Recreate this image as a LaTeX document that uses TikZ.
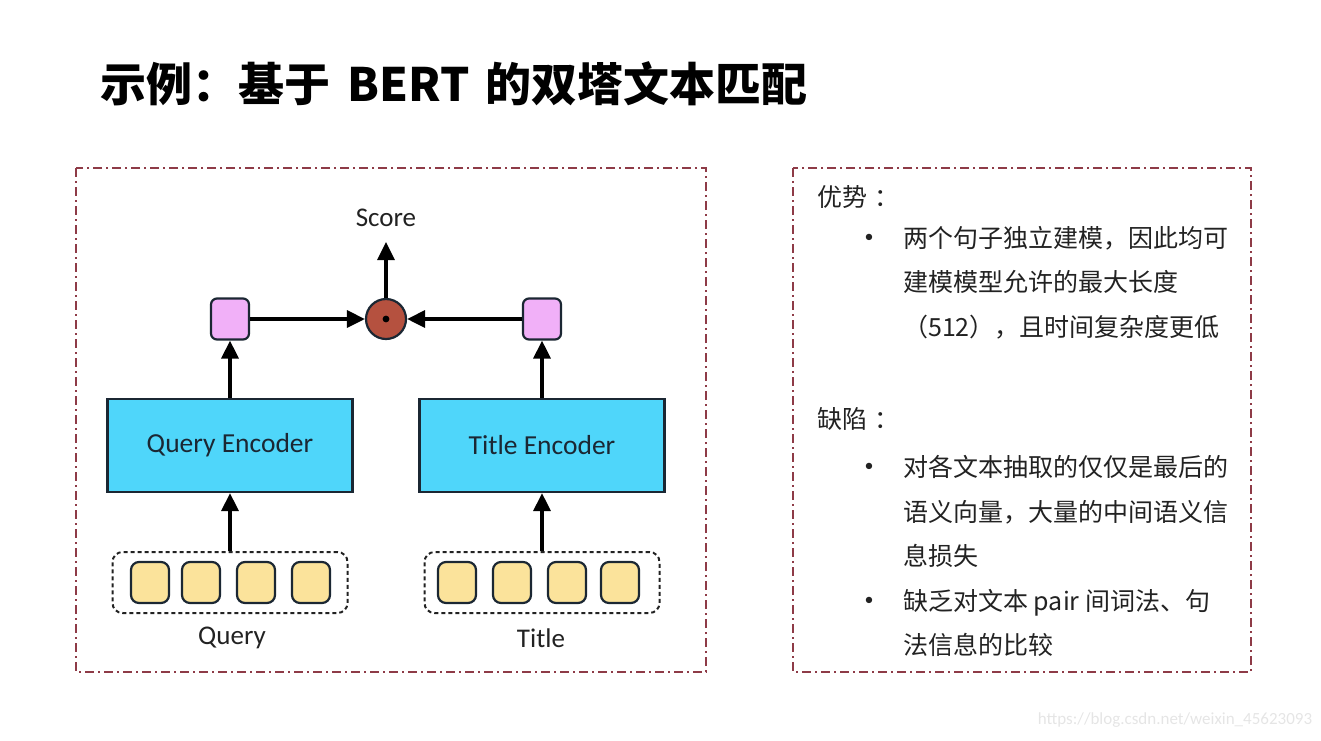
\documentclass[tikz,border=0pt]{standalone}
\usepackage{fontspec}
\usepackage{xcolor}
\usetikzlibrary{arrows.meta}
\setmainfont{Carlito}
\newfontfamily\cjk{Noto Sans CJK SC}
\definecolor{framered}{HTML}{8E3B47}
\definecolor{encblue}{HTML}{4FD6FA}
\definecolor{encline}{HTML}{1B2733}
\definecolor{vecpink}{HTML}{F1B0F8}
\definecolor{multred}{HTML}{B5513F}
\definecolor{tokyellow}{HTML}{FBE39B}
\definecolor{inkgray}{HTML}{222222}

\begin{document}
\begin{tikzpicture}[x=1pt, y=-1pt,
  frame/.style={draw=framered, line width=1.7pt, dash pattern=on 9pt off 4pt on 2pt off 4pt},
  enc/.style={draw=encline, fill=encblue, line width=2.2pt, minimum width=245pt, minimum height=93pt, inner sep=0pt, text=encline, font=\fontsize{27.5}{30}\selectfont},
  vec/.style={draw=encline, fill=vecpink, rounded corners=6pt, line width=2.2pt, minimum width=38pt, minimum height=41pt, inner sep=0pt},
  tok/.style={draw=encline, fill=tokyellow, rounded corners=8pt, line width=2.2pt, minimum width=38pt, minimum height=41pt, inner sep=0pt},
  seq/.style={draw=inkgray, rounded corners=10pt, line width=2pt, dash pattern=on 4pt off 3pt, minimum width=235pt, minimum height=61pt, inner sep=0pt},
  mult/.style={circle, draw=encline, fill=multred, line width=2.2pt, minimum size=40pt, inner sep=0pt},
  lbl/.style={inner sep=0pt, text=inkgray, font=\fontsize{27}{30}\selectfont},
  arr/.style={line width=3.2pt, -{Triangle[length=18pt,width=17pt]}},
  txt/.style={anchor=base west, inner sep=0pt, text=inkgray, font=\cjk\fontsize{25}{30}\selectfont},
  bul/.style={inner sep=0pt, text=inkgray, font=\fontsize{18}{20}\selectfont}
]
\useasboundingbox (0,0) rectangle (1321,740);

% title
\node[anchor=base west, inner sep=0pt, font=\cjk\bfseries\fontsize{46}{50}\selectfont] (title) at (100,101) {示例：基于\hspace{0.38em}BERT\hspace{0.34em}的双塔文本匹配};

% two-tower model
\draw[frame] (76,168) rectangle (706,672);
\node[lbl] (score) at (386,218) {Score};
\coordinate (stop) at (386,242);
\node[mult] (m) at (386,319) {};
\fill[black] (m) circle (3.4pt);
\node[vec] (qv) at (230,319) {};
\node[vec] (tv) at (542,319) {};
\node[enc] (qenc) at (230,445.5) {Query Encoder};
\node[enc] (tenc) at (542,445.5) {Title Encoder};
\node[seq] (qseq) at (230,582.5) {};
\node[seq] (tseq) at (542,582.5) {};
\node[tok] (q1) at (150,582.5) {};
\node[tok] (q2) at (201,582.5) {};
\node[tok] (q3) at (256,582.5) {};
\node[tok] (q4) at (311,582.5) {};
\node[tok] (t1) at (457,582.5) {};
\node[tok] (t2) at (512,582.5) {};
\node[tok] (t3) at (567,582.5) {};
\node[tok] (t4) at (620,582.5) {};
\node[lbl] (ql) at (232,638) {Query};
\node[lbl] (tl) at (541,638) {Title};
\draw[arr] (qseq) -- (qenc);
\draw[arr] (tseq) -- (tenc);
\draw[arr] (qenc) -- (qv);
\draw[arr] (tenc) -- (tv);
\draw[arr] (qv) -- (m);
\draw[arr] (tv) -- (m);
\draw[arr] (m) -- (stop);

% pros and cons
\draw[frame] (793,168) rectangle (1251,672);
\node[txt] (adv) at (817,206) {优势\hspace{0.3em}：};
\node[bul] (b1) at (869,238) {\textbullet};
\node[txt] (a1) at (903,247) {两个句子独立建模，因此均可};
\node[txt] (a2) at (903,291) {建模模型允许的最大长度};
\node[txt] (a3) at (903,336) {（512），且时间复杂度更低};
\node[txt] (dis) at (817,428) {缺陷\hspace{0.3em}：};
\node[bul] (b2) at (869,467) {\textbullet};
\node[txt] (d1) at (903,476) {对各文本抽取的仅仅是最后的};
\node[txt] (d2) at (903,521) {语义向量，大量的中间语义信};
\node[txt] (d3) at (903,565) {息损失};
\node[bul] (b3) at (869,601) {\textbullet};
\node[txt] (d4) at (903,610) {缺乏对文本 pair 间词法、句};
\node[txt] (d5) at (903,654) {法信息的比较};

\node[inner sep=0pt, text=black!10, font=\fontsize{17}{20}\selectfont] (wm) at (1175,720) {https://blog.csdn.net/weixin\_45623093};
\end{tikzpicture}
\end{document}
